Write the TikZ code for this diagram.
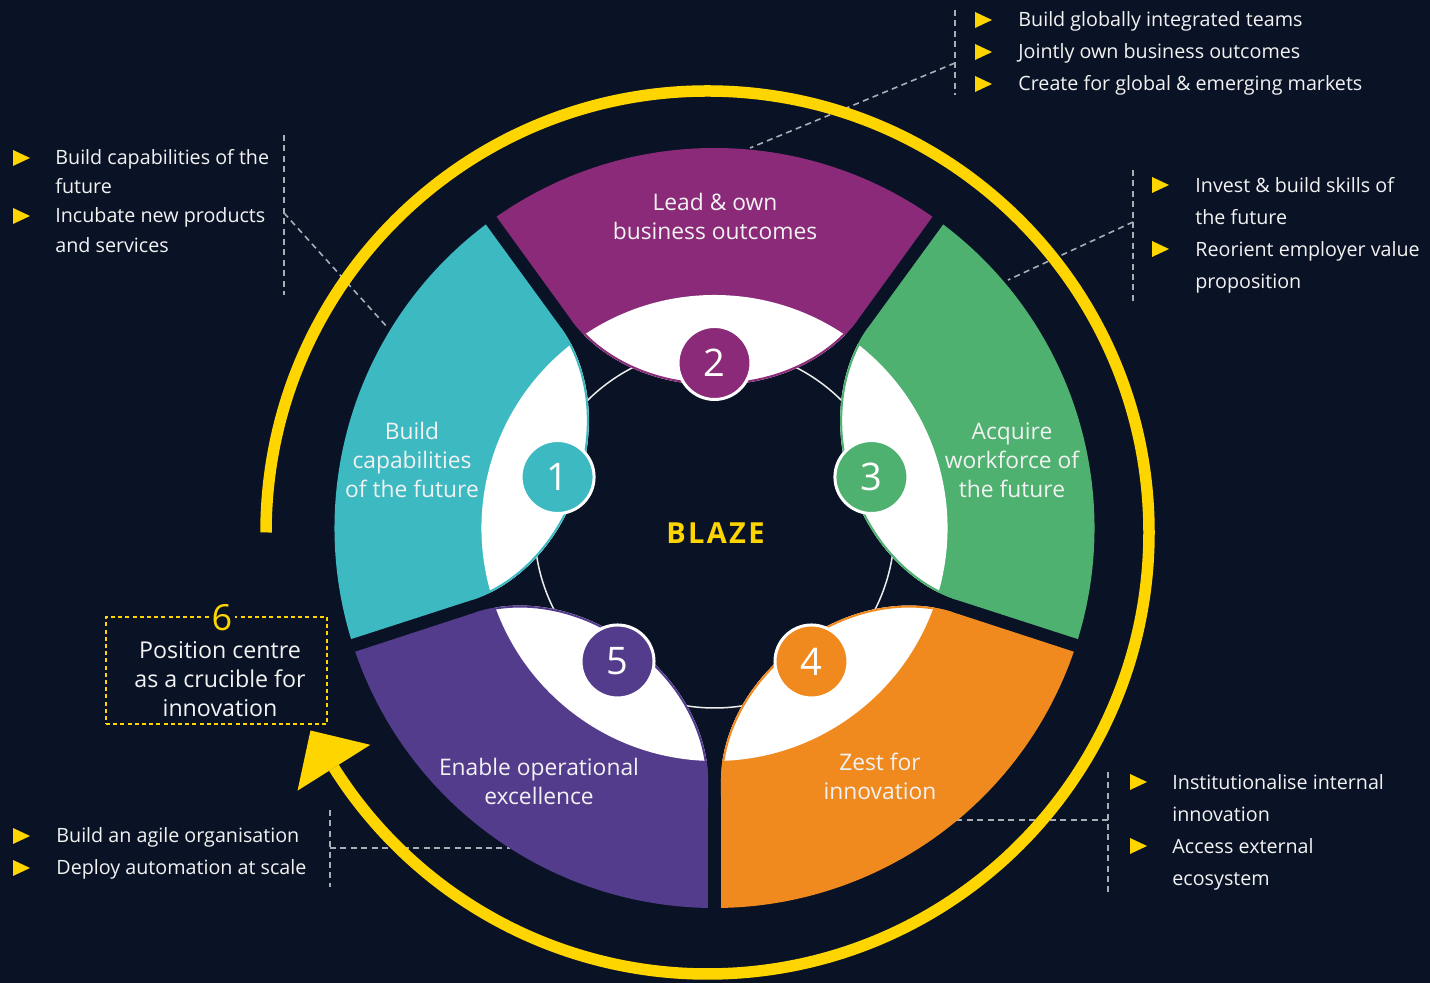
\documentclass[tikz,border=0pt]{standalone}
\usepackage{fontspec}
\setmainfont{Open Sans}
\usetikzlibrary{calc}
\definecolor{bg}{HTML}{0A1326}
\definecolor{eyy}{HTML}{FFD500}
\definecolor{cteal}{HTML}{3DB9C1}
\definecolor{cpurp}{HTML}{8B2A78}
\definecolor{cgreen}{HTML}{4EB170}
\definecolor{corange}{HTML}{F08A1F}
\definecolor{cviolet}{HTML}{543C8D}
\definecolor{dashg}{HTML}{A8ADB6}
\definecolor{txt}{HTML}{F2F2F2}
\tikzset{
  petalpath/.style={insert path={(55:380) arc[start angle=55, end angle=125, radius=380]
     -- (-142.9,207.7) .. controls (-119.4,175.3) and (-70,143) .. (0,143)
     .. controls (70,143) and (119.4,175.3) .. (142.9,207.7) -- cycle}},
  lensedge/.style={insert path={(-142.9,207.7) .. controls (-119.4,175.3) and (-70,143) .. (0,143)
     .. controls (70,143) and (119.4,175.3) .. (142.9,207.7)}},
  numc/.style={circle, draw=white, line width=1.5pt, minimum size=36.5pt, inner sep=0pt,
     text=white, font=\fontsize{19pt}{19pt}\selectfont},
  ptext/.style={align=center, text=txt, font=\fontsize{11.4pt}{14.5pt}\selectfont},
  ltext/.style={anchor=west, text=txt, inner sep=0pt, text height=1.5ex, text depth=0.25ex,
     font=\fontsize{9.85pt}{11pt}\selectfont},
  dashline/.style={draw=dashg, line width=0.8pt, dash pattern=on 3pt off 2.2pt},
  bullet/.pic={\fill[eyy] (-8,8) -- (9,0) -- (-8,-8) -- cycle;}
}
\newcommand\mypetal[2]{%
  \begin{scope}[shift={(C)}, rotate=#1-90]
    \fill[#2, petalpath];
    \begin{scope}
      \clip[petalpath];
      \fill[white] (0,0) circle[radius=233];
      \draw[#2, line width=2pt, lensedge];
    \end{scope}
  \end{scope}}
\begin{document}
\begin{tikzpicture}[x=0.5pt, y=0.5pt]
\fill[bg] (0,0) rectangle (1430,983);
\useasboundingbox (0,0) rectangle (1430,983);
\coordinate (C) at (714.5,455);
\coordinate (RC) at (707.5,450.5);

% thin inner ring
\draw[white!85!gray, line width=0.75pt] (C) circle[radius=180];

% dashed connectors
\coordinate (d1t) at (955,973); \coordinate (d1b) at (955,888);
\coordinate (d1m) at (955,920); \coordinate (d1e) at (750,835);
\coordinate (d2t) at (284,848); \coordinate (d2b) at (284,688);
\coordinate (d2m) at (284,770); \coordinate (d2e) at (388,655);
\coordinate (d3t) at (1133,813); \coordinate (d3b) at (1133,678);
\coordinate (d3m) at (1133,761); \coordinate (d3e) at (1008,703);
\coordinate (d4t) at (1108,211); \coordinate (d4b) at (1108,90);
\coordinate (d4m) at (1108,163); \coordinate (d4e) at (955,163);
\coordinate (d5t) at (330,173); \coordinate (d5b) at (330,96);
\coordinate (d5m) at (330,135); \coordinate (d5e) at (510,135);
\foreach \k in {1,...,5}{
  \draw[dashline] (d\k t) -- (d\k b);
  \draw[dashline] (d\k m) -- (d\k e);
}

% petals
\mypetal{90}{cpurp}
\mypetal{162}{cteal}
\mypetal{18}{cgreen}
\mypetal{306}{corange}
\mypetal{234}{cviolet}

% yellow ring with arrow
\draw[eyy, line width=5.75pt] ($(RC)+(180:441.5)$) arc[start angle=180, end angle=-147.8, radius=441.5];
\begin{scope}[shift={(RC)}, rotate=-147.8]
  \fill[eyy] (398.5,0) -- (484.5,0) -- (441.5,-44) -- cycle;
\end{scope}

% number circles
\node[numc, fill=cpurp] (n2) at ($(C)+(90:165)$) {2};
\node[numc, fill=cteal] (n1) at ($(C)+(162:165)$) {1};
\node[numc, fill=cgreen] (n3) at ($(C)+(18:165)$) {3};
\node[numc, fill=corange] (n4) at ($(C)+(306:165)$) {4};
\node[numc, fill=cviolet] (n5) at ($(C)+(234:165)$) {5};

% petal texts
\node[ptext] (p1) at (412,523) {Build\\capabilities\\of the future};
\node[ptext] (p2) at (715,766.5) {Lead \& own\\business outcomes};
\node[ptext] (p3) at (1012,523) {Acquire\\workforce of\\the future};
\node[ptext] (p4) at (880,207) {Zest for\\innovation};
\node[ptext] (p5) at (539,201.5) {Enable operational\\excellence};

\node[text=eyy, font=\fontsize{14.5pt}{15pt}\selectfont\bfseries\addfontfeatures{LetterSpace=8}] (blaze) at (715.5,450) {BLAZE};

% box 6
\node[draw=eyy, line width=0.7pt, dash pattern=on 2pt off 1.6pt, minimum width=110.5pt, minimum height=53.5pt, inner sep=0pt] (box6) at (216.5,312.5) {};
\node[align=center, text=txt, font=\fontsize{11.6pt}{14.5pt}\selectfont] (box6t) at (220,304) {Position centre\\as a crucible for\\innovation};
\node[fill=bg, text=eyy, inner sep=1.5pt, font=\fontsize{18pt}{18pt}\selectfont] (six) at (222,365) {6};

% list: top right
\pic at (983,963) {bullet}; \pic at (983,931) {bullet}; \pic at (983,899) {bullet};
\node[ltext] (a1) at (1018,963) {Build globally integrated teams};
\node[ltext] (a2) at (1018,931) {Jointly own business outcomes};
\node[ltext] (a3) at (1018,899) {Create for global \& emerging markets};

% list: top left
\pic at (21,825) {bullet}; \pic at (21,767) {bullet};
\node[ltext] (b1) at (55,825) {Build capabilities of the};
\node[ltext] (b2) at (55,796) {future};
\node[ltext] (b3) at (55,767) {Incubate new products};
\node[ltext] (b4) at (55,737) {and services};

% list: right
\pic at (1160,798) {bullet}; \pic at (1160,734) {bullet};
\node[ltext] (c1) at (1195,797) {Invest \& build skills of};
\node[ltext] (c2) at (1195,765) {the future};
\node[ltext] (c3) at (1195,733) {Reorient employer value};
\node[ltext] (c4) at (1195,701) {proposition};

% list: bottom right
\pic at (1138,201) {bullet}; \pic at (1138,137) {bullet};
\node[ltext] (e1) at (1172,200) {Institutionalise internal};
\node[ltext] (e2) at (1172,168) {innovation};
\node[ltext] (e3) at (1172,136) {Access external};
\node[ltext] (e4) at (1172,104) {ecosystem};

% list: bottom left
\pic at (21,147) {bullet}; \pic at (21,115) {bullet};
\node[ltext] (f1) at (56,147) {Build an agile organisation};
\node[ltext] (f2) at (56,115) {Deploy automation at scale};
\end{tikzpicture}
\end{document}
